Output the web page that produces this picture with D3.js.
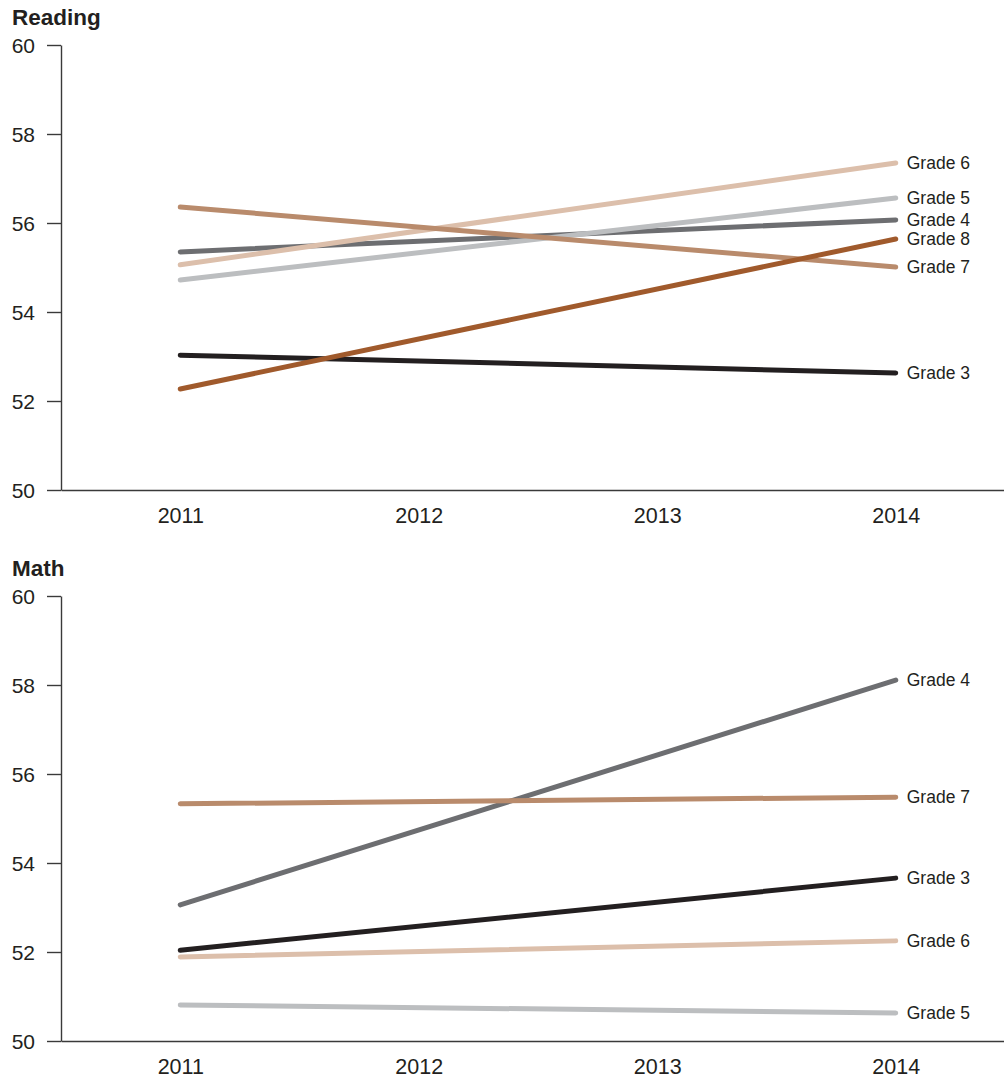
<!DOCTYPE html>
<html>
<head>
<meta charset="utf-8">
<script src="https://cdn.jsdelivr.net/npm/d3@7"></script>
<style>
  html, body { margin: 0; padding: 0; background: #fff; }
  svg { display: block; font-family: "Liberation Sans", Arial, sans-serif; }
  .axis path, .axis line { stroke: #3a3a3a; stroke-width: 1.4; }
  .axis text { fill: #231f20; font-size: 21px; }
  .x-axis text { font-size: 21.5px; }
  .title { font-weight: bold; font-size: 22.5px; fill: #231f20; }
  .label { font-size: 17.5px; fill: #231f20; }
</style>
</head>
<body>
<svg id="chart" width="1004" height="1082"></svg>
<script>
// Years on the horizontal axis and the y-axis tick values
const years = ["2011", "2012", "2013", "2014"];
const yTicks = [50, 52, 54, 56, 58, 60];

// Grade colours
const gradeColors = {
  "Grade 3": "#231f20",
  "Grade 4": "#6d6e71",
  "Grade 5": "#bcbec0",
  "Grade 6": "#dcbfab",
  "Grade 7": "#b98b6c",
  "Grade 8": "#a05a2c"
};

// Reading scores: [2011, 2014]
const readingGrades = ["Grade 3", "Grade 4", "Grade 5", "Grade 6", "Grade 7", "Grade 8"];
const reading2011 = [53.03, 55.35, 54.72, 55.06, 56.36, 52.27];
const reading2014 = [52.63, 56.07, 56.56, 57.35, 55.01, 55.64];

// Math scores: [2011, 2014]
const mathGrades = ["Grade 3", "Grade 4", "Grade 5", "Grade 6", "Grade 7"];
const math2011 = [52.04, 53.06, 50.81, 51.89, 55.33];
const math2014 = [53.66, 58.11, 50.63, 52.25, 55.48];

const svg = d3.select("#chart");

const x = d3.scalePoint().domain(years).range([61, 1015]).padding(0.5);

function panel(title, offsetY, grades, start, end) {
  const g = svg.append("g").attr("transform", `translate(0,${offsetY})`);
  const y = d3.scaleLinear().domain([50, 60]).range([490, 45]);

  g.append("text").attr("class", "title").attr("x", 12).attr("y", 25).text(title);

  g.append("g").attr("class", "axis")
    .attr("transform", "translate(61,0)")
    .call(d3.axisLeft(y).tickValues(yTicks).tickSize(14).tickSizeOuter(0).tickPadding(12))
    .call(a => a.selectAll("text").attr("dy", "0.36em"));

  g.append("g").attr("class", "axis x-axis")
    .attr("transform", "translate(0,490)")
    .call(d3.axisBottom(x).tickSize(0).tickSizeOuter(0).tickPadding(18));

  const series = grades.map((name, i) => ({
    name,
    points: [[years[0], start[i]], [years[3], end[i]]]
  }));

  const line = d3.line().x(d => x(d[0])).y(d => y(d[1]));

  g.selectAll("path.series").data(series).join("path")
    .attr("class", "series")
    .attr("d", d => line(d.points))
    .attr("fill", "none")
    .attr("stroke", d => gradeColors[d.name])
    .attr("stroke-width", 5)
    .attr("stroke-linecap", "round");

  g.selectAll("text.label").data(series).join("text")
    .attr("class", "label")
    .attr("x", d => x(years[3]) + 11)
    .attr("y", d => y(d.points[1][1]))
    .attr("dy", "0.35em")
    .text(d => d.name);
}

panel("Reading", 0, readingGrades, reading2011, reading2014);
panel("Math", 551, mathGrades, math2011, math2014);
</script>
</body>
</html>
